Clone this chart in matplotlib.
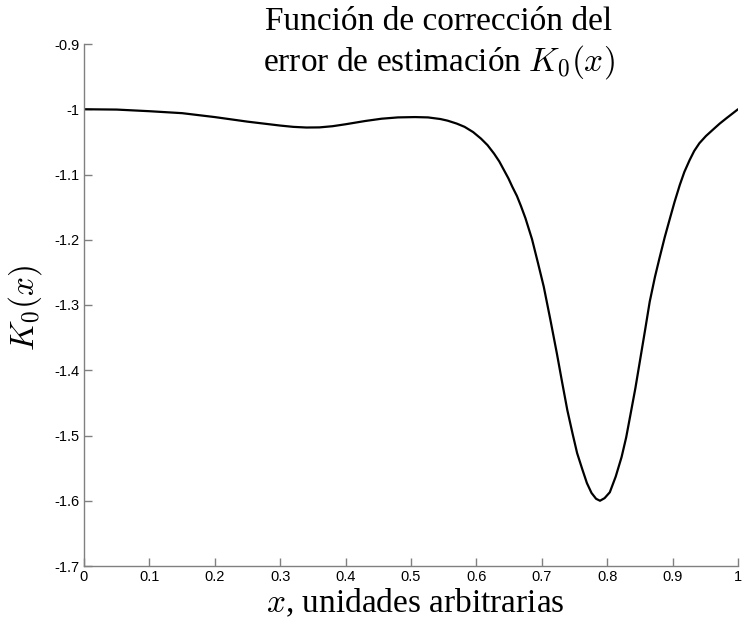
import matplotlib
matplotlib.use("Agg")
import matplotlib.pyplot as plt

# Correction function K0(x) sampled along x (arbitrary units)
x_vals = [0.000, 0.050, 0.100, 0.150, 0.200, 0.250, 0.300, 0.320, 0.340,
          0.360, 0.380, 0.400, 0.430, 0.455, 0.480, 0.506, 0.526, 0.545,
          0.556, 0.570, 0.582, 0.595, 0.607, 0.617, 0.627, 0.635, 0.642,
          0.649, 0.655, 0.662, 0.668, 0.675, 0.685, 0.694, 0.703, 0.713,
          0.723, 0.731, 0.739, 0.747, 0.754, 0.762, 0.769, 0.776, 0.783,
          0.789, 0.796, 0.804, 0.813, 0.822, 0.829, 0.835, 0.843, 0.850,
          0.858, 0.865, 0.873, 0.880, 0.888, 0.896, 0.903, 0.911, 0.918,
          0.926, 0.933, 0.941, 0.951, 0.962, 0.972, 0.982, 0.991, 1.000]
k0_vals = [-1.000, -1.0005, -1.003, -1.006, -1.012, -1.019, -1.025, -1.027, -1.028,
           -1.0278, -1.026, -1.023, -1.018, -1.0145, -1.0125, -1.012, -1.0125, -1.015,
           -1.0175, -1.022, -1.027, -1.035, -1.045, -1.055, -1.068, -1.080, -1.093,
           -1.106, -1.119, -1.133, -1.148, -1.167, -1.199, -1.235, -1.272, -1.322,
           -1.374, -1.418, -1.461, -1.497, -1.527, -1.552, -1.573, -1.588, -1.597,
           -1.600, -1.596, -1.587, -1.563, -1.533, -1.503, -1.471, -1.428, -1.386,
           -1.338, -1.295, -1.257, -1.228, -1.196, -1.167, -1.142, -1.116, -1.096,
           -1.078, -1.064, -1.052, -1.041, -1.031, -1.022, -1.014, -1.007, -1.000]

x_ticks = [0, 0.1, 0.2, 0.3, 0.4, 0.5, 0.6, 0.7, 0.8, 0.9, 1]
x_tick_labels = ["0", "0.1", "0.2", "0.3", "0.4", "0.5", "0.6", "0.7", "0.8", "0.9", "1"]
y_ticks = [-1.7, -1.6, -1.5, -1.4, -1.3, -1.2, -1.1, -1.0, -0.9]
y_tick_labels = ["-1.7", "-1.6", "-1.5", "-1.4", "-1.3", "-1.2", "-1.1", "-1", "-0.9"]

plt.rcParams["mathtext.fontset"] = "cm"
serif = ["Liberation Serif", "DejaVu Serif"]
sans = ["Liberation Sans", "DejaVu Sans"]

fig = plt.figure(figsize=(7.44, 6.24), dpi=100)
ax = fig.add_axes([84 / 744, 1 - 566 / 624, (738 - 84) / 744, (566 - 44) / 624])

ax.plot(x_vals, k0_vals, color="black", linewidth=1.6,
        solid_joinstyle="round", solid_capstyle="round")

ax.set_xlim(0, 1)
ax.set_ylim(-1.7, -0.9)
ax.set_xticks(x_ticks)
ax.set_xticklabels(x_tick_labels, fontfamily=sans, fontsize=10.5)
ax.set_yticks(y_ticks)
ax.set_yticklabels(y_tick_labels, fontfamily=sans, fontsize=10.5)

for side in ("top", "right"):
    ax.spines[side].set_visible(False)
for side in ("left", "bottom"):
    ax.spines[side].set_color("#808080")
    ax.spines[side].set_linewidth(1.0)
ax.tick_params(direction="in", length=6, width=1.0, color="#808080",
               labelcolor="black", pad=3)

title_x = 0.5 * (270 + 608) / 744
fig.text(title_x, 1 - 22 / 624,
         "Función de corrección del", fontfamily=serif, fontsize=24,
         ha="center", va="center")
fig.text(title_x, 1 - 62 / 624,
         "error de estimación $K_0(x)$", fontfamily=serif, fontsize=24,
         ha="center", va="center")

fig.text(415 / 744, 1 - 603 / 624, "$x$, unidades arbitrarias",
         fontfamily=serif, fontsize=24, ha="center", va="center")
fig.text(25 / 744, 1 - 308 / 624, "$K_0(x)$", fontsize=24,
         rotation=90, ha="center", va="center")

fig.savefig("out.png", dpi=100, facecolor="white")
